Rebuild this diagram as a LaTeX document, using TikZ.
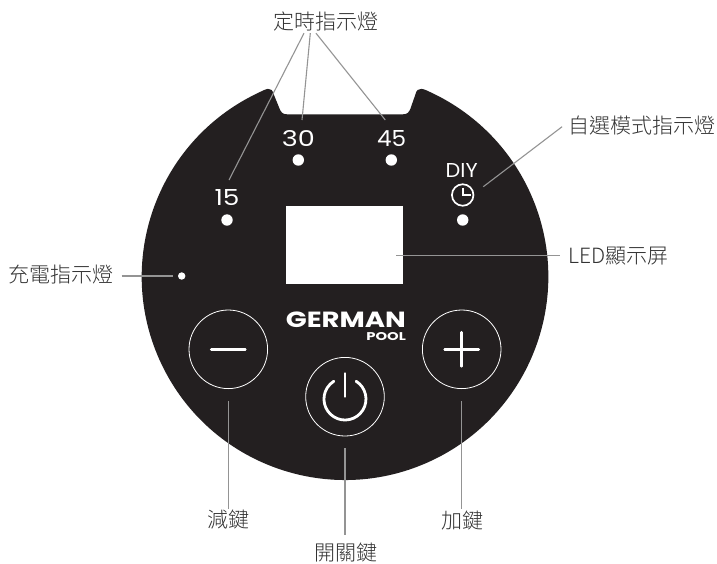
\documentclass[tikz,border=0pt]{standalone}
\usepackage{graphicx}
\usepackage{fontspec}
\setmainfont{Liberation Sans}
\newfontfamily\cjk{Noto Sans CJK TC Light}
\newfontfamily\nums{Poppins}
\newfontfamily\logo{Poppins}[BoldFont=Poppins Bold]
\definecolor{panel}{HTML}{231F20}
\definecolor{leader}{HTML}{949494}
\definecolor{labeltext}{HTML}{333333}
\tikzset{
  lab/.style={inner sep=0pt,minimum height=22pt,text=labeltext,font=\cjk\fontsize{21}{21}\selectfont},
  lamp/.style={circle,fill=white,inner sep=0pt,minimum size=11.4pt},
  keyring/.style={circle,draw=white,line width=0.8pt,inner sep=0pt,minimum size=78.6pt},
  glyph/.style={draw=white,line width=2.8pt,line cap=round},
  leadline/.style={draw=leader,line width=1.1pt},
  silk/.style={inner sep=0pt,text=white}
}
\begin{document}
\begin{tikzpicture}[x=1pt,y=-1pt]
\useasboundingbox[fill=white] (0,0) rectangle (717,563);
% panel
\fill[panel] (257.5,93.2) arc[start angle=115.5,end angle=424.5,radius=203.3pt]
  .. controls (424,89.2) and (417.5,85) .. (415.2,95) -- (410.5,108.5)
  .. controls (409,112.5) and (407,114.3) .. (403,114.3) -- (287,114.3)
  .. controls (283,114.3) and (281,112.5) .. (279.5,108.5) -- (274,95)
  .. controls (271.5,85) and (266,89.2) .. (257.5,93.2) -- cycle;
% display
\node[fill=white,inner sep=0pt,minimum width=117pt,minimum height=78pt] (screen) at (344.5,245) {};
% indicators
\node[lamp] (d15) at (227,220) {};
\node[lamp] (d30) at (298.3,160) {};
\node[lamp] (d45) at (391.3,160) {};
\node[lamp] (ddiy) at (462.7,220) {};
\node[lamp,minimum size=7.4pt] (dcharge) at (181.7,276) {};
\node[silk,font=\nums] (n15) at (227,198) {\resizebox{25pt}{16pt}{15}};
\node[silk,font=\nums] (n30) at (298.3,138.5) {\resizebox{33pt}{16pt}{30}};
\node[silk,font=\nums] (n45) at (391.7,138.5) {\resizebox{29pt}{16pt}{45}};
\node[silk,font=\nums] (ndiy) at (461.7,170.7) {\resizebox{32pt}{14pt}{DIY}};
% clock
\node[circle,draw=white,line width=1.7pt,inner sep=0pt,minimum size=21.5pt] (clock) at (462.7,195) {};
\draw[white,line width=1.6pt] (462.7,187.7) -- (clock.center) -- (470.7,195);
% logo
\node[silk,font=\logo\bfseries] (german) at (345.8,319.5) {\resizebox{120pt}{15.6pt}{GERMAN}};
\node[silk,font=\logo\bfseries,anchor=east] (pool) at (406,336.7) {\resizebox{39.5pt}{8pt}{POOL}};
% keys
\node[keyring] (minus) at (228.3,349.3) {};
\node[keyring] (plus) at (461.7,349.3) {};
\node[keyring] (power) at (345,396.7) {};
\draw[glyph] ([xshift=-17pt]minus.center) -- ([xshift=17pt]minus.center);
\draw[glyph] ([xshift=-17pt]plus.center) -- ([xshift=17pt]plus.center);
\draw[glyph] ([yshift=17pt]plus.center) -- ([yshift=-17pt]plus.center);
\draw[glyph] (356.1,381.2) arc[start angle=58,end angle=-238,radius=21pt];
\draw[glyph] (345,373.5) -- (345,396.5);
% labels
\node[lab] (ltimer) at (325.7,22) {定時指示燈};
\node[lab] (ldiy) at (641.5,125.7) {自選模式指示燈};
\node[lab] (lled) at (618.2,255.7) {LED顯示屏};
\node[lab] (lcharge) at (61,275) {充電指示燈};
\node[lab] (lminus) at (228.7,520) {減鍵};
\node[lab] (lplus) at (462,520) {加鍵};
\node[lab] (lpower) at (345.7,552) {開關鍵};
% free ends of leaders
\coordinate (e15) at (229,180);
\coordinate (e30) at (302,120);
\coordinate (e45) at (385.3,120);
\coordinate (ediy) at (483.3,186.7);
\coordinate (eled) at (396,255.7);
% leaders
\draw[leadline] ([xshift=-21.7pt]ltimer.south) -- (e15);
\draw[leadline] ([xshift=-15.4pt]ltimer.south) -- (e30);
\draw[leadline] ([xshift=-9.7pt]ltimer.south) -- (e45);
\draw[leadline] ([xshift=-5.7pt,yshift=-1pt]ldiy.west) -- (ediy);
\draw[leadline] ([xshift=-8pt]lled.west) -- (eled);
\draw[leadline,shorten <=8pt,shorten >=5pt] (lcharge.east |- dcharge) -- (dcharge);
\draw[leadline,shorten <=12.4pt] (minus.south) -- (minus.south |- lminus.north);
\draw[leadline,shorten <=12.4pt] (plus.south) -- (plus.south |- lplus.north);
\draw[leadline,shorten <=12pt,shorten >=6pt] (power.south) -- (power.south |- lpower.north);
\end{tikzpicture}
\end{document}
